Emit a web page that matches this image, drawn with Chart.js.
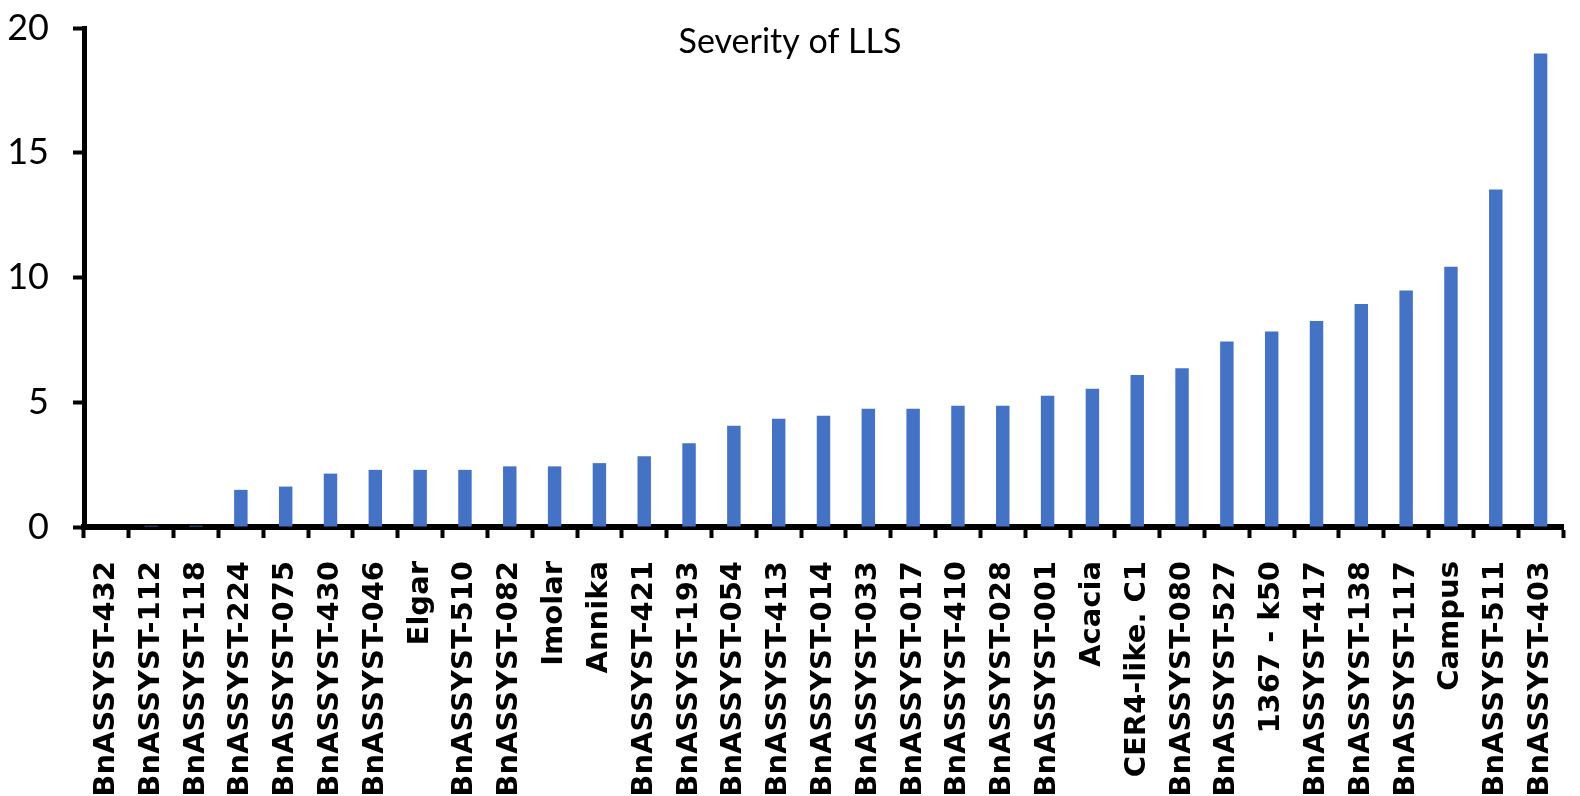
<!DOCTYPE html>
<html>
<head>
<meta charset="utf-8">
<script src="https://cdn.jsdelivr.net/npm/chart.js@4/dist/chart.umd.min.js"></script>
<style>
  html, body { margin: 0; padding: 0; background: #ffffff; }
  #wrap { width: 1580px; height: 796px; position: relative; }
</style>
</head>
<body>
<div id="wrap"><canvas id="chart" width="1580" height="796"></canvas></div>
<script>
// Genotypes, ordered by increasing LLS severity
const categories = [
  'BnASSYST-432', 'BnASSYST-112', 'BnASSYST-118', 'BnASSYST-224', 'BnASSYST-075',
  'BnASSYST-430', 'BnASSYST-046', 'Elgar', 'BnASSYST-510', 'BnASSYST-082',
  'Imolar', 'Annika', 'BnASSYST-421', 'BnASSYST-193', 'BnASSYST-054',
  'BnASSYST-413', 'BnASSYST-014', 'BnASSYST-033', 'BnASSYST-017', 'BnASSYST-410',
  'BnASSYST-028', 'BnASSYST-001', 'Acacia', 'CER4-like. C1', 'BnASSYST-080',
  'BnASSYST-527', '1367 - k50', 'BnASSYST-417', 'BnASSYST-138', 'BnASSYST-117',
  'Campus', 'BnASSYST-511', 'BnASSYST-403'
];

// Severity score per genotype
const severity = [
  0, 0.05, 0.05, 1.49, 1.62,
  2.14, 2.29, 2.29, 2.29, 2.43,
  2.43, 2.56, 2.84, 3.36, 4.06,
  4.34, 4.46, 4.74, 4.74, 4.86,
  4.86, 5.26, 5.54, 6.09, 6.36,
  7.43, 7.84, 8.26, 8.94, 9.48,
  10.43, 13.53, 18.98
];

// Value axis tick values
const yTicks = [0, 5, 10, 15, 20];

const chartTitle = 'Severity of LLS';

// Title drawn over the top of the plot area
const innerTitle = {
  id: 'innerTitle',
  afterDraw(chart) {
    const ctx = chart.ctx;
    ctx.save();
    ctx.font = '34px Lato, "Open Sans", sans-serif';
    ctx.fillStyle = '#000000';
    ctx.textAlign = 'center';
    ctx.textBaseline = 'alphabetic';
    ctx.fillText(chartTitle, chart.width / 2, 53);
    ctx.restore();
  }
};

new Chart(document.getElementById('chart'), {
  type: 'bar',
  data: {
    labels: categories,
    datasets: [{
      data: severity,
      backgroundColor: '#4472C4',
      borderWidth: 0,
      categoryPercentage: 1.0,
      barPercentage: 0.3
    }]
  },
  options: {
    responsive: false,
    animation: false,
    devicePixelRatio: 1,
    layout: { padding: { top: 28, right: 17, bottom: 0, left: 0 } },
    plugins: {
      legend: { display: false },
      title: { display: false },
      tooltip: { enabled: false }
    },
    scales: {
      x: {
        z: 1,
        offset: true,
        border: { display: true, color: '#000000', width: 6 },
        grid: {
          display: true,
          offset: true,
          drawOnChartArea: false,
          drawTicks: true,
          tickLength: 11,
          tickWidth: 4,
          tickColor: '#000000'
        },
        ticks: {
          autoSkip: false,
          maxRotation: 90,
          minRotation: 90,
          padding: 23,
          color: '#000000',
          font: { family: '"DejaVu Sans", Verdana, sans-serif', size: 29, weight: 'bold' }
        },
        afterFit(scale) {
          scale.height = 269;
          scale.paddingLeft = 0;
          scale.paddingRight = 0;
        }
      },
      y: {
        z: 1,
        min: 0,
        max: 20,
        afterBuildTicks(scale) { scale.ticks = yTicks.map(v => ({ value: v })); },
        border: { display: true, color: '#000000', width: 5 },
        grid: {
          display: true,
          drawOnChartArea: false,
          drawTicks: true,
          tickLength: 11,
          tickWidth: 4,
          tickColor: '#000000'
        },
        ticks: {
          padding: 24,
          color: '#000000',
          font: { family: 'Lato, sans-serif', size: 36 }
        },
        afterFit(scale) {
          scale.width = 84;
          scale.paddingTop = 0;
          scale.paddingBottom = 0;
        }
      }
    }
  },
  plugins: [innerTitle]
});
</script>
</body>
</html>
